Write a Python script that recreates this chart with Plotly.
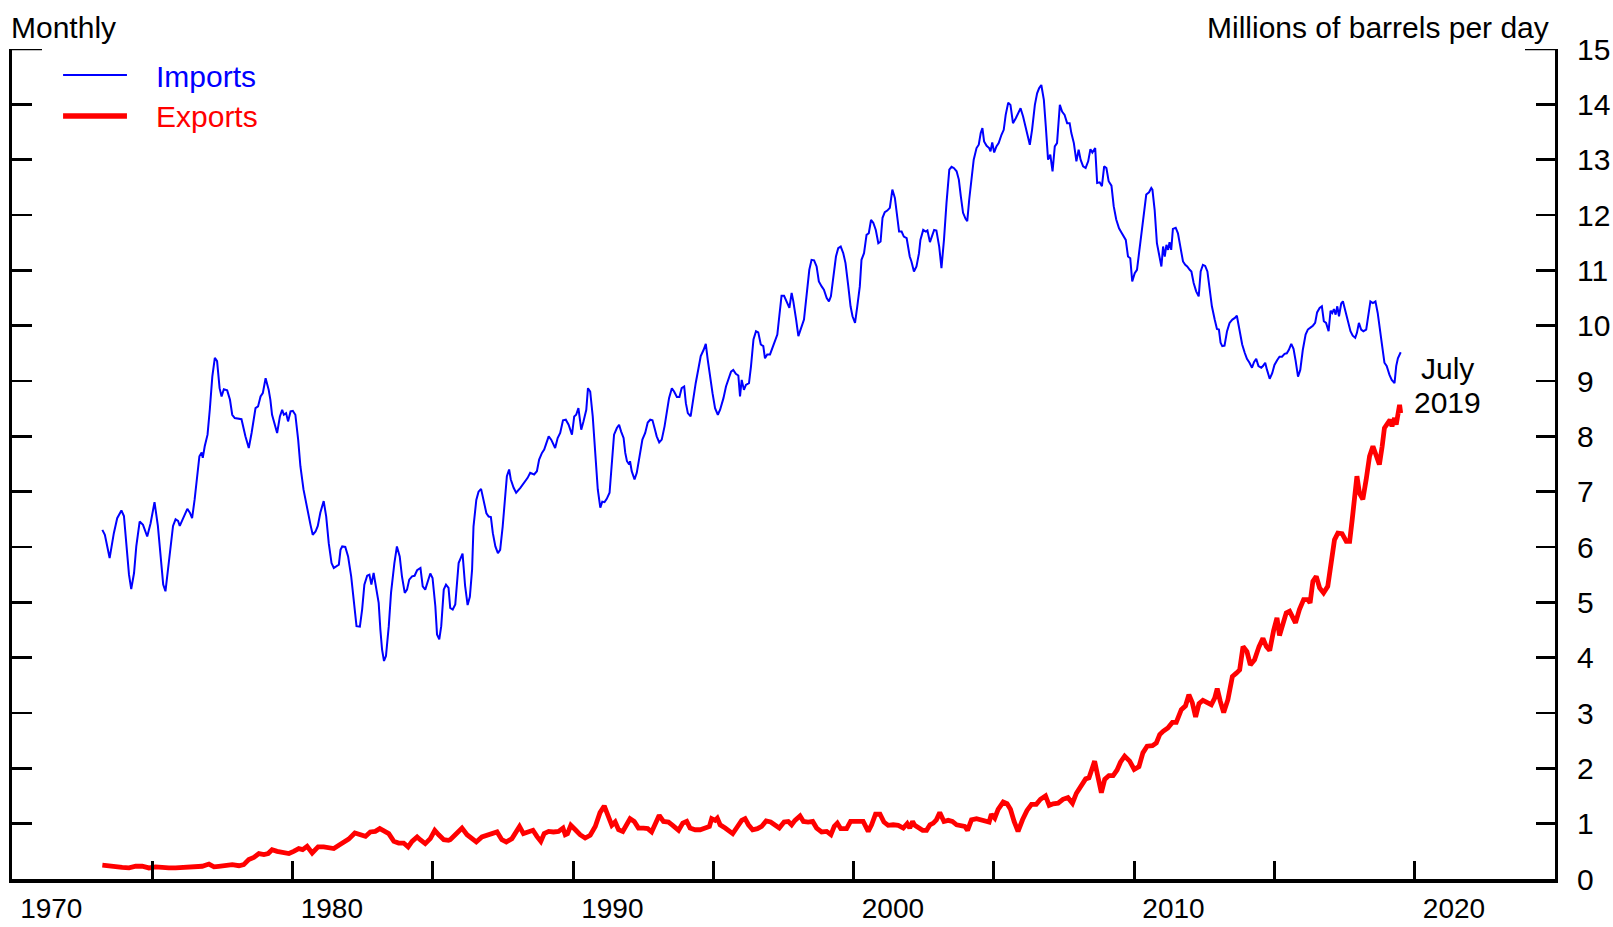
import plotly.graph_objects as go

# ---------------- data ----------------
imports_t = [
 1973.22,1973.31,1973.48,1973.63,1973.75,1973.90,1973.99,1974.11,1974.17,1974.25,1974.35,1974.43,1974.55,1974.67,1974.82,1974.94,
 1975.08,1975.20,1975.32,1975.39,1975.47,1975.59,1975.74,1975.83,1975.92,1975.98,1976.09,1976.25,1976.34,1976.42,1976.51,1976.60,
 1976.68,1976.76,1976.80,1976.87,1976.97,1977.05,1977.14,1977.23,1977.31,1977.40,1977.47,1977.55,1977.67,1977.77,1977.85,1977.94,
 1978.18,1978.32,1978.44,1978.54,1978.68,1978.77,1978.86,1978.94,1979.04,1979.15,1979.21,1979.27,1979.37,1979.45,1979.55,1979.63,
 1979.69,1979.77,1979.84,1979.93,1980.01,1980.10,1980.20,1980.28,1980.39,1980.48,1980.56,1980.64,1980.72,1980.82,1980.90,1980.99,
 1981.11,1981.20,1981.29,1981.39,1981.47,1981.55,1981.65,1981.71,1981.77,1981.88,1981.98,1982.09,1982.18,1982.28,1982.40,1982.48,
 1982.56,1982.66,1982.74,1982.81,1982.89,1982.98,1983.07,1983.13,1983.19,1983.26,1983.33,1983.43,1983.51,1983.63,1983.72,1983.82,
 1983.90,1984.00,1984.08,1984.16,1984.26,1984.35,1984.44,1984.56,1984.64,1984.73,1984.82,1984.91,1984.99,1985.09,1985.15,1985.23,
 1985.30,1985.39,1985.47,1985.56,1985.62,1985.71,1985.80,1985.92,1986.06,1986.15,1986.24,1986.32,1986.40,1986.45,1986.55,1986.63,
 1986.72,1986.81,1986.91,1986.99,1987.07,1987.14,1987.23,1987.32,1987.40,1987.49,1987.56,1987.64,1987.72,1987.78,1987.88,1987.97,
 1988.12,1988.26,1988.38,1988.47,1988.61,1988.71,1988.79,1988.89,1988.97,1989.03,1989.13,1989.22,1989.36,1989.45,1989.54,1989.64,
 1989.74,1989.84,1989.96,1990.04,1990.11,1990.19,1990.29,1990.37,1990.47,1990.53,1990.61,1990.70,1990.79,1990.88,1990.97,1991.04,
 1991.12,1991.20,1991.30,1991.38,1991.46,1991.56,1991.64,1991.71,1991.80,1991.86,1991.92,1992.00,1992.03,1992.09,1992.19,1992.27,
 1992.37,1992.47,1992.57,1992.66,1992.75,1992.83,1992.92,1992.98,1993.07,1993.16,1993.26,1993.34,1993.42,1993.52,1993.60,1993.70,
 1993.79,1993.87,1993.96,1994.02,1994.09,1994.19,1994.29,1994.37,1994.47,1994.55,1994.65,1994.73,1994.80,1994.88,1994.97,1995.06,
 1995.16,1995.24,1995.36,1995.45,1995.54,1995.63,1995.71,1995.80,1995.89,1995.95,1996.01,1996.09,1996.16,1996.27,1996.34,1996.43,
 1996.52,1996.60,1996.69,1996.78,1996.84,1996.92,1997.02,1997.11,1997.20,1997.28,1997.35,1997.43,1997.52,1997.61,1997.71,1997.79,
 1997.85,1997.95,1998.03,1998.23,1998.32,1998.42,1998.50,1998.59,1998.68,1998.76,1998.86,1998.94,1999.04,1999.12,1999.19,1999.27,
 1999.37,1999.45,1999.54,1999.63,1999.71,1999.81,1999.89,1999.96,2000.05,2000.13,2000.22,2000.28,2000.37,2000.46,2000.54,2000.62,
 2000.70,2000.79,2000.88,2000.96,2001.03,2001.11,2001.20,2001.29,2001.38,2001.47,2001.55,2001.62,2001.71,2001.79,2001.89,2001.95,
 2002.00,2002.06,2002.15,2002.24,2002.33,2002.38,2002.48,2002.57,2002.63,2002.72,2002.80,2002.87,2002.95,2003.05,2003.13,2003.22,
 2003.31,2003.41,2003.49,2003.57,2003.67,2003.75,2003.82,2003.90,2003.99,2004.05,2004.12,2004.20,2004.28,2004.38,2004.46,2004.53,
 2004.59,2004.65,2004.74,2004.83,2004.88,2004.94,2005.01,2005.09,2005.17,2005.27,2005.35,2005.42,2005.51,2005.59,2005.68,2005.78,
 2005.86,2005.95,2006.04,2006.12,2006.20,2006.28,2006.36,2006.46,2006.54,2006.61,2006.69,2006.78,2006.85,2006.93,2007.01,2007.09,
 2007.17,2007.25,2007.35,2007.43,2007.52,2007.61,2007.70,2007.76,2007.85,2007.94,2008.02,2008.09,2008.18,2008.27,2008.36,2008.44,
 2008.51,2008.61,2008.68,2008.77,2008.85,2008.93,2009.01,2009.09,2009.19,2009.27,2009.36,2009.46,2009.54,2009.63,2009.70,2009.78,
 2009.86,2009.93,2010.02,2010.10,2010.17,2010.26,2010.34,2010.43,2010.53,2010.61,2010.65,2010.73,2010.81,2010.91,2010.97,2011.03,
 2011.09,2011.15,2011.21,2011.26,2011.32,2011.38,2011.48,2011.56,2011.64,2011.74,2011.82,2011.89,2011.98,2012.04,2012.12,2012.21,
 2012.30,2012.37,2012.45,2012.53,2012.61,2012.69,2012.77,2012.87,2012.95,2013.02,2013.08,2013.14,2013.22,2013.31,2013.40,2013.50,
 2013.59,2013.66,2013.76,2013.85,2013.94,2014.02,2014.11,2014.20,2014.27,2014.35,2014.43,2014.53,2014.59,2014.67,2014.73,2014.83,
 2014.92,2015.00,2015.10,2015.18,2015.27,2015.36,2015.44,2015.51,2015.60,2015.68,2015.75,2015.84,2015.92,2016.01,2016.11,2016.19,
 2016.27,2016.37,2016.45,2016.52,2016.61,2016.69,2016.76,2016.84,2016.93,2017.00,2017.06,2017.12,2017.18,2017.24,2017.30,2017.38,
 2017.44,2017.52,2017.62,2017.71,2017.79,2017.88,2017.94,2018.01,2018.09,2018.17,2018.27,2018.35,2018.42,2018.51,2018.60,2018.68,
 2018.77,2018.84,2018.92,2019.00,2019.10,2019.18,2019.28,2019.34,2019.40,2019.50]

imports_v = [
 6.31,6.22,5.80,6.25,6.52,6.66,6.56,5.89,5.50,5.24,5.53,6.01,6.46,6.40,6.19,6.43,
 6.81,6.38,5.65,5.32,5.20,5.71,6.38,6.50,6.47,6.38,6.52,6.69,6.62,6.52,6.86,7.34,
 7.64,7.71,7.61,7.82,8.03,8.48,9.08,9.42,9.36,8.87,8.72,8.85,8.83,8.66,8.39,8.33,
 8.31,8.00,7.79,8.06,8.51,8.54,8.72,8.78,9.05,8.84,8.66,8.39,8.21,8.06,8.36,8.48,
 8.39,8.42,8.27,8.45,8.46,8.39,7.94,7.46,7.04,6.80,6.55,6.40,6.22,6.28,6.38,6.62,
 6.83,6.55,6.07,5.71,5.62,5.65,5.68,5.95,6.01,6.00,5.83,5.47,5.05,4.57,4.56,4.87,
 5.32,5.48,5.50,5.32,5.53,5.29,4.99,4.51,4.15,3.94,4.03,4.57,5.17,5.71,6.01,5.83,
 5.47,5.17,5.23,5.41,5.47,5.48,5.58,5.62,5.29,5.23,5.38,5.52,5.44,4.93,4.42,4.33,
 4.57,5.23,5.32,5.26,4.90,4.87,4.96,5.71,5.88,5.30,4.95,5.10,5.59,6.37,6.85,7.00,
 7.05,6.85,6.61,6.55,6.54,6.25,6.01,5.89,5.95,6.37,6.85,7.28,7.40,7.22,7.07,6.98,
 7.07,7.16,7.25,7.34,7.31,7.37,7.58,7.70,7.76,7.85,8.00,7.94,7.79,7.97,8.06,8.29,
 8.30,8.21,8.03,8.36,8.39,8.51,8.12,8.27,8.48,8.87,8.81,8.36,7.64,7.04,6.71,6.82,
 6.81,6.87,6.98,7.52,8.03,8.15,8.21,8.09,7.97,7.70,7.55,7.49,7.55,7.37,7.22,7.34,
 7.64,7.94,8.06,8.25,8.30,8.29,8.12,8.00,7.89,7.94,8.18,8.48,8.69,8.87,8.81,8.71,
 8.71,8.87,8.90,8.60,8.42,8.36,8.72,8.96,9.23,9.45,9.56,9.67,9.38,9.08,8.78,8.51,
 8.39,8.48,8.69,8.90,9.05,9.17,9.20,9.13,9.10,8.72,9.02,8.84,8.93,8.96,9.26,9.75,
 9.90,9.88,9.66,9.63,9.41,9.48,9.48,9.60,9.75,9.84,10.17,10.54,10.54,10.44,10.32,10.59,
 10.44,10.11,9.81,10.11,10.59,11.01,11.19,11.18,11.07,10.80,10.71,10.65,10.50,10.44,10.53,10.89,
 11.25,11.40,11.43,11.31,11.13,10.71,10.35,10.17,10.05,10.35,10.71,11.19,11.31,11.64,11.67,11.91,
 11.86,11.73,11.49,11.52,11.95,12.05,12.08,12.13,12.46,12.31,11.97,11.70,11.70,11.61,11.58,11.37,
 11.25,11.16,10.98,11.07,11.31,11.55,11.73,11.70,11.72,11.51,11.64,11.73,11.72,11.43,11.04,11.55,
 12.22,12.82,12.87,12.85,12.79,12.64,12.34,12.04,11.93,11.89,12.28,12.70,13.00,13.21,13.27,13.48,
 13.57,13.33,13.25,13.21,13.15,13.31,13.13,13.24,13.30,13.45,13.54,13.81,14.03,13.99,13.66,13.75,
 13.84,13.93,13.78,13.60,13.42,13.27,13.54,13.99,14.20,14.29,14.35,14.08,13.60,13.00,13.09,12.79,
 13.24,13.30,13.99,13.87,13.81,13.66,13.66,13.48,13.30,12.97,13.18,13.00,12.88,12.85,12.97,13.19,
 13.13,13.21,12.58,12.59,12.52,12.88,12.85,12.61,12.53,12.16,11.92,11.76,11.69,11.61,11.55,11.25,
 11.22,10.80,10.95,11.01,11.31,11.73,12.04,12.37,12.41,12.49,12.46,12.09,11.49,11.19,11.07,11.43,
 11.25,11.46,11.37,11.51,11.37,11.75,11.77,11.67,11.43,11.16,11.10,11.07,11.01,10.98,10.77,10.62,
 10.53,10.98,11.10,11.08,10.98,10.65,10.35,10.11,9.94,9.93,9.69,9.63,9.64,9.90,10.05,10.11,
 10.14,10.18,9.93,9.66,9.51,9.40,9.33,9.24,9.34,9.40,9.27,9.24,9.27,9.33,9.21,9.04,
 9.14,9.29,9.38,9.44,9.44,9.49,9.50,9.56,9.67,9.58,9.38,9.08,9.20,9.56,9.84,9.93,
 9.96,10.00,10.05,10.24,10.32,10.35,10.08,10.05,9.90,10.27,10.23,10.30,10.20,10.35,10.17,10.40,
 10.44,10.29,10.11,9.90,9.82,9.78,9.87,10.05,9.93,9.90,9.93,10.17,10.44,10.41,10.44,10.23,
 9.93,9.63,9.33,9.27,9.11,9.02,8.96,9.27,9.41,9.52]

exports_t = [
 1973.22,1973.46,1973.69,1973.93,1974.17,1974.41,1974.64,1974.88,1975.12,1975.36,1975.59,1975.83,1976.07,1976.31,1976.54,1976.78,
 1977.02,1977.20,1977.37,1977.61,1977.85,1978.09,1978.26,1978.44,1978.62,1978.80,1978.98,1979.13,1979.27,1979.45,1979.63,1979.87,
 1980.04,1980.22,1980.36,1980.52,1980.70,1980.91,1981.11,1981.29,1981.47,1981.65,1981.83,1982.00,1982.22,1982.42,1982.60,1982.77,
 1982.95,1983.11,1983.25,1983.43,1983.61,1983.78,1983.96,1984.12,1984.26,1984.44,1984.55,1984.73,1984.91,1985.07,1985.21,1985.39,
 1985.56,1985.62,1985.80,1986.04,1986.22,1986.40,1986.55,1986.75,1986.93,1987.11,1987.29,1987.46,1987.62,1987.82,1987.94,1988.09,
 1988.23,1988.41,1988.57,1988.71,1988.85,1988.97,1989.13,1989.30,1989.48,1989.64,1989.72,1989.80,1989.92,1990.08,1990.25,1990.43,
 1990.61,1990.79,1990.96,1991.11,1991.23,1991.38,1991.50,1991.62,1991.77,1991.91,1992.03,1992.18,1992.33,1992.51,1992.66,1992.80,
 1992.92,1993.07,1993.22,1993.40,1993.55,1993.76,1993.91,1994.05,1994.17,1994.35,1994.53,1994.70,1994.86,1994.94,1995.06,1995.14,
 1995.24,1995.42,1995.69,1995.85,1996.01,1996.13,1996.25,1996.40,1996.57,1996.72,1996.88,1997.04,1997.20,1997.35,1997.52,1997.67,
 1997.79,1997.91,1998.09,1998.21,1998.38,1998.54,1998.68,1998.86,1999.04,1999.19,1999.31,1999.42,1999.54,1999.75,1999.89,2000.05,
 2000.20,2000.34,2000.52,2000.64,2000.78,2000.94,2001.08,2001.23,2001.41,2001.59,2001.77,2001.91,2002.00,2002.10,2002.18,2002.30,
 2002.46,2002.60,2002.72,2002.84,2002.95,2003.07,2003.22,2003.37,2003.52,2003.67,2003.84,2003.96,2004.06,2004.20,2004.38,2004.56,
 2004.73,2004.83,2004.91,2005.03,2005.15,2005.33,2005.47,2005.59,2005.72,2005.86,2006.02,2006.18,2006.34,2006.51,2006.66,2006.84,
 2006.97,2007.11,2007.29,2007.46,2007.64,2007.80,2007.94,2008.12,2008.27,2008.39,2008.51,2008.59,2008.69,2008.83,2008.95,2009.10,
 2009.25,2009.39,2009.51,2009.66,2009.84,2010.00,2010.17,2010.31,2010.46,2010.65,2010.79,2010.91,2011.03,2011.20,2011.36,2011.50,
 2011.68,2011.83,2011.95,2012.07,2012.19,2012.31,2012.45,2012.59,2012.75,2012.87,2012.96,2013.07,2013.19,2013.34,2013.50,2013.64,
 2013.76,2013.88,2014.02,2014.14,2014.29,2014.45,2014.59,2014.71,2014.83,2014.97,2015.09,2015.18,2015.30,2015.42,2015.54,2015.66,
 2015.75,2015.89,2016.04,2016.19,2016.27,2016.37,2016.49,2016.61,2016.75,2016.90,2017.02,2017.14,2017.26,2017.41,2017.56,2017.68,
 2017.77,2017.85,2017.94,2018.03,2018.15,2018.27,2018.39,2018.51,2018.62,2018.74,2018.84,2018.92,2019.04,2019.12,2019.19,2019.28,
 2019.34,2019.40,2019.46,2019.50]

exports_v = [
 0.25,0.23,0.23,0.21,0.20,0.23,0.23,0.20,0.22,0.20,0.20,0.20,0.21,0.21,0.21,0.23,
 0.27,0.22,0.23,0.25,0.26,0.24,0.26,0.35,0.39,0.46,0.44,0.46,0.53,0.50,0.48,0.46,
 0.50,0.55,0.53,0.59,0.47,0.58,0.58,0.56,0.55,0.61,0.66,0.72,0.83,0.80,0.77,0.85,
 0.86,0.91,0.86,0.82,0.68,0.65,0.65,0.58,0.68,0.76,0.71,0.64,0.73,0.88,0.80,0.71,
 0.70,0.71,0.80,0.92,0.80,0.73,0.67,0.76,0.79,0.82,0.85,0.71,0.67,0.73,0.82,0.95,
 0.82,0.86,0.88,0.77,0.68,0.82,0.86,0.85,0.86,0.92,0.80,0.82,0.97,0.89,0.80,0.74,
 0.79,0.95,1.20,1.32,1.15,0.97,1.03,0.89,0.86,0.98,1.09,1.04,0.92,0.92,0.91,0.85,
 1.01,1.15,1.04,1.03,0.97,0.88,1.01,1.04,0.92,0.89,0.89,0.91,0.95,1.09,1.06,1.10,
 0.98,0.92,0.82,0.94,1.06,1.09,0.98,0.89,0.91,0.95,1.05,1.03,0.98,0.92,1.03,1.04,
 0.98,1.06,1.14,1.04,1.03,1.04,0.92,0.85,0.86,0.80,0.95,1.01,0.91,0.91,1.04,1.04,
 1.03,1.04,0.86,0.98,1.17,1.17,1.03,0.97,0.98,0.97,0.92,1.00,0.92,1.04,0.97,0.92,
 0.88,0.88,0.98,1.01,1.07,1.20,1.04,1.06,1.04,0.98,0.95,0.95,0.88,1.07,1.09,1.07,
 1.04,1.03,1.17,1.10,1.26,1.39,1.36,1.26,1.04,0.86,1.07,1.24,1.35,1.35,1.44,1.50,
 1.33,1.36,1.37,1.44,1.47,1.37,1.55,1.68,1.81,1.83,1.98,2.13,1.89,1.56,1.80,1.87,
 1.87,1.97,2.11,2.22,2.13,1.98,2.03,2.28,2.40,2.41,2.46,2.61,2.67,2.73,2.83,2.83,
 3.06,3.13,3.33,3.19,2.93,3.17,3.23,3.19,3.15,3.27,3.44,3.21,3.01,3.24,3.66,3.72,
 3.78,4.20,4.11,3.87,3.96,4.20,4.35,4.20,4.13,4.49,4.72,4.40,4.63,4.81,4.84,4.72,
 4.63,4.87,5.05,5.05,4.99,5.38,5.47,5.26,5.17,5.29,5.68,6.13,6.25,6.24,6.10,6.10,
 6.49,6.97,7.28,6.97,6.86,7.22,7.64,7.82,7.67,7.49,7.82,8.15,8.24,8.30,8.18,8.33,
 8.21,8.42,8.57,8.42]

x_ticks = [1975, 1980, 1985, 1990, 1995, 2000, 2005, 2010, 2015, 2020]
x_labels = ["1970", "1980", "1990", "2000", "2010", "2020"]
y_ticks = list(range(0, 16))

# ---------------- style ----------------
FONT = "Liberation Sans, Arial, Helvetica, sans-serif"
FS = 30
BLUE = "#0000FF"
RED = "#FF0000"
LABEL_OFFSET = 1.4   # the decade labels sit a little right of the decade start

fig = go.Figure()
fig.add_trace(go.Scatter(x=exports_t, y=exports_v, mode="lines",
                         line=dict(color=RED, width=4.8), showlegend=False, hoverinfo="skip"))
fig.add_trace(go.Scatter(x=imports_t, y=imports_v, mode="lines",
                         line=dict(color=BLUE, width=2), showlegend=False, hoverinfo="skip"))

XR = [1970, 2025]
YR = [0, 15]

fig.update_layout(
    template="none",
    width=1613, height=927, autosize=False,
    margin=dict(l=12, r=58, t=49, b=48, pad=0),
    paper_bgcolor="white", plot_bgcolor="white",
    font=dict(family=FONT, size=FS, color="black"),
    showlegend=False,
    hovermode=False,
    xaxis=dict(range=XR, showgrid=False, zeroline=False, automargin=False,
               tickvals=x_ticks, ticks="inside", ticklen=18, tickwidth=3, tickcolor="black",
               showticklabels=False, showline=True, linewidth=4, linecolor="black"),
    xaxis2=dict(range=XR, overlaying="x", anchor="y", side="bottom", showgrid=False, zeroline=False,
                automargin=False,
                tickvals=[int(s) + LABEL_OFFSET for s in x_labels], ticktext=x_labels,
                ticks="", showline=False, ticklabelstandoff=10,
                tickfont=dict(family=FONT, size=28, color="black")),
    yaxis=dict(range=YR, side="right", showgrid=False, zeroline=False, automargin=False,
               tickvals=y_ticks, ticks="inside", ticklen=19, tickwidth=2.5, tickcolor="black",
               showline=True, linewidth=3, linecolor="black", ticklabelstandoff=13,
               tickfont=dict(family=FONT, size=FS, color="black")),
    yaxis2=dict(range=YR, overlaying="y", anchor="x", side="left", showgrid=False, zeroline=False,
                automargin=False,
                tickvals=y_ticks, ticks="inside", ticklen=20, tickwidth=2.5, tickcolor="black",
                showticklabels=False, showline=True, linewidth=3, linecolor="black"),
)
# dummy trace so xaxis2 / yaxis2 are drawn
fig.add_trace(go.Scatter(x=[None], y=[None], xaxis="x2", yaxis="y2", showlegend=False, hoverinfo="skip"))

# longer caps at the top of both vertical axes
fig.add_shape(type="line", xref="paper", yref="y", xsizemode="pixel", xanchor=0,
              x0=0, x1=30, y0=15, y1=15, line=dict(color="black", width=2.5))
fig.add_shape(type="line", xref="paper", yref="y", xsizemode="pixel", xanchor=1,
              x0=-30, x1=0, y0=15, y1=15, line=dict(color="black", width=2.5))

# legend (drawn by hand)
fig.add_shape(type="line", xref="paper", yref="paper", x0=0.0331, x1=0.0745, y0=0.9687, y1=0.9687,
              line=dict(color=BLUE, width=2))
fig.add_shape(type="line", xref="paper", yref="paper", x0=0.0331, x1=0.0745, y0=0.9193, y1=0.9193,
              line=dict(color=RED, width=5.5))
fig.add_annotation(xref="paper", yref="paper", x=0.092, y=0.9663, text="Imports", showarrow=False,
                   xanchor="left", yanchor="middle", font=dict(family=FONT, size=FS, color=BLUE))
fig.add_annotation(xref="paper", yref="paper", x=0.092, y=0.9181, text="Exports", showarrow=False,
                   xanchor="left", yanchor="middle", font=dict(family=FONT, size=FS, color=RED))

# titles
fig.add_annotation(xref="paper", yref="paper", x=0, y=1, yshift=22, xshift=-3, text="Monthly",
                   showarrow=False, xanchor="left", yanchor="middle",
                   font=dict(family=FONT, size=FS, color="black"))
fig.add_annotation(xref="paper", yref="paper", x=0.9975, y=1, yshift=22, text="Millions of barrels per day",
                   showarrow=False, xanchor="right", yanchor="middle",
                   font=dict(family=FONT, size=FS, color="black"))

# end-point note
fig.add_annotation(xref="paper", yref="paper", x=0.9306, y=0.6155, text="July", showarrow=False,
                   xanchor="center", yanchor="middle", font=dict(family=FONT, size=FS, color="black"))
fig.add_annotation(xref="paper", yref="paper", x=0.9306, y=0.5735, text="2019", showarrow=False,
                   xanchor="center", yanchor="middle", font=dict(family=FONT, size=FS, color="black"))

# remove the page's default body margin so the 1613x927 figure fills the window exactly
fig.write_html("out.html", config={"displayModeBar": False, "staticPlot": True},
               post_script="document.body.style.margin='0';document.body.style.overflow='hidden';")
